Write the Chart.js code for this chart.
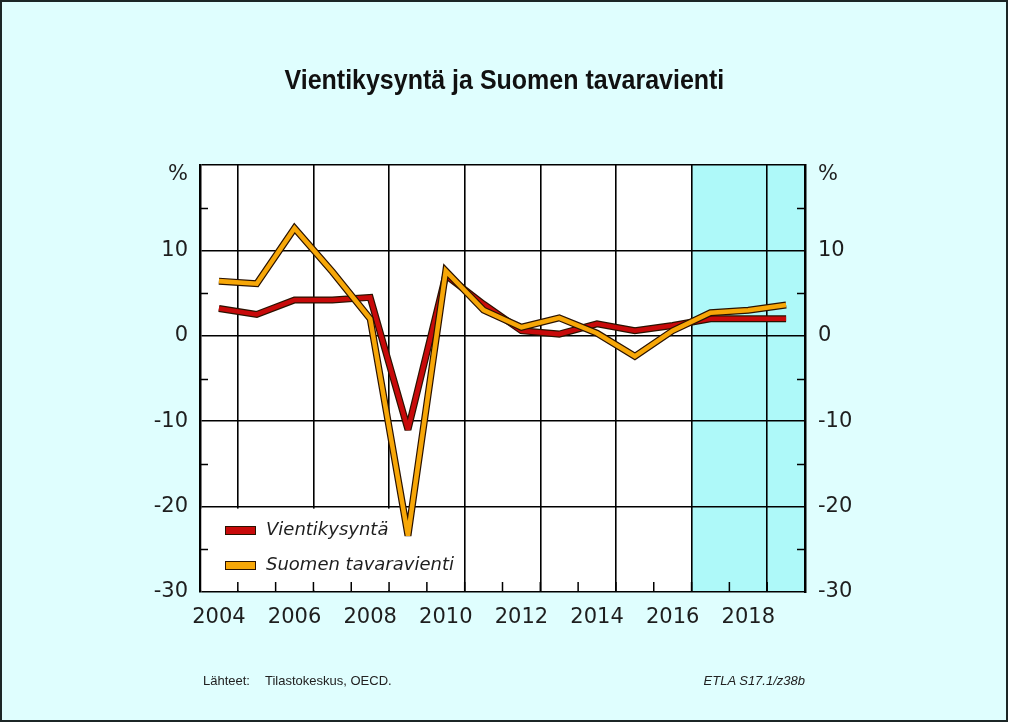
<!DOCTYPE html>
<html>
<head>
<meta charset="utf-8">
<script src="https://cdn.jsdelivr.net/npm/chart.js@4.4.0/dist/chart.umd.min.js"></script>
<style>
    html, body { margin: 0; padding: 0; background: #fff; }
    #wrap { position: relative; width: 1024px; height: 723px; overflow: hidden; }
    #frame {
        position: absolute; left: 0; top: 0;
        width: 1004px; height: 718px;
        border: 2px solid #1c2626;
        background: #dffefe;
    }
    #chart { position: absolute; left: 0; top: 0; }
    .title {
        position: absolute; left: 0; width: 1008px; top: 64px;
        text-align: center;
    }
    #title-text {
        display: inline-block;
        font-family: 'Liberation Sans', 'DejaVu Sans', sans-serif;
        font-weight: bold; font-size: 28px; color: #111;
        transform-origin: center;
        white-space: nowrap;
    }
    .footer {
        position: absolute; top: 673px;
        font-family: 'Liberation Sans Narrow', 'Liberation Sans', sans-serif;
        font-size: 13px; color: #222;
    }
</style>
</head>
<body>
<div id="wrap">
    <div id="frame"></div>
    <canvas id="chart" width="1024" height="723"></canvas>
    <div class="title"><span id="title-text">Vientikysyntä ja Suomen tavaravienti</span></div>
    <div class="footer" style="left:203px;">Lähteet:</div>
    <div class="footer" style="left:265px;">Tilastokeskus, OECD.</div>
    <div class="footer" style="right:219px; font-style:italic;">ETLA S17.1/z38b</div>
</div>
<script>
const YEARS = [2004, 2005, 2006, 2007, 2008, 2009, 2010, 2011,
               2012, 2013, 2014, 2015, 2016, 2017, 2018, 2019];
const VIENTIKYSYNTA = [3.2, 2.5, 4.2, 4.2, 4.5, -11.0, 7.1, 3.7,
                       0.6, 0.2, 1.4, 0.6, 1.2, 2.0, 2.0, 2.0];
const TAVARAVIENTI = [6.4, 6.1, 12.6, 7.5, 2.0, -23.4, 7.6, 3.0,
                      1.0, 2.1, 0.3, -2.4, 0.6, 2.7, 3.0, 3.6];
const FORECAST_YEARS = [2017, 2018, 2019];
const X_LABELS = [2004, 2006, 2008, 2010, 2012, 2014, 2016, 2018];
const Y_TICKS = [-30, -20, -10, 0, 10, 20];
const Y_MINOR = [-25, -15, -5, 5, 15];
const SERIES_NAMES = ['Vientikysyntä', 'Suomen tavaravienti'];

const RED = '#c80a0a';
const ORANGE = '#f7a708';
const OUTLINE = '#2a1200';
const SHADE = '#aef9f9';
const FONT = "'DejaVu Sans', sans-serif";
const TEXT = '#1e1e1e';

// squeeze the title to the condensed width of the original
const titleEl = document.getElementById('title-text');
titleEl.style.transform = 'scaleX(' + (440 / titleEl.offsetWidth) + ')';

function points(values) {
    return YEARS.map((y, i) => ({ x: y, y: values[i] }));
}

function lineSet(values, color, width, order) {
    return {
        data: points(values),
        borderColor: color,
        borderWidth: width,
        pointRadius: 0,
        tension: 0,
        fill: false,
        borderJoinStyle: 'miter',
        borderCapStyle: 'butt',
        order: order
    };
}

// background, forecast shading, legend box, inner ticks, legend
const decor = {
    id: 'decor',
    beforeDraw(chart) {
        const ctx = chart.ctx;
        const a = chart.chartArea;
        const x = chart.scales.x;
        ctx.save();
        ctx.fillStyle = '#fff';
        ctx.fillRect(a.left, a.top, a.right - a.left, a.bottom - a.top);
        const x0 = x.getPixelForValue(FORECAST_YEARS[0] - 0.5);
        const x1 = x.getPixelForValue(FORECAST_YEARS[FORECAST_YEARS.length - 1] + 0.5);
        ctx.fillStyle = SHADE;
        ctx.fillRect(x0, a.top, x1 - x0, a.bottom - a.top);
        ctx.restore();
    },
    beforeDatasetsDraw(chart) {
        const ctx = chart.ctx;
        const a = chart.chartArea;
        const x = chart.scales.x;
        const y = chart.scales.y;
        ctx.save();
        // legend box hides the gridlines under it
        const boxTop = y.getPixelForValue(-20) + 2;
        const boxRight = x.getPixelForValue(2010.5) - 4;
        ctx.fillStyle = '#fff';
        ctx.fillRect(a.left + 1.5, boxTop, boxRight - a.left - 1.5, a.bottom - 1.5 - boxTop);

        ctx.strokeStyle = '#000';
        ctx.lineWidth = 1.5;
        ctx.beginPath();
        Y_MINOR.forEach(v => {
            const py = Math.round(y.getPixelForValue(v)) + 0.5;
            ctx.moveTo(a.left, py); ctx.lineTo(a.left + 8, py);
            ctx.moveTo(a.right, py); ctx.lineTo(a.right - 8, py);
        });
        YEARS.slice(0, -1).forEach(v => {
            const px = x.getPixelForValue(v + 0.5);
            ctx.moveTo(px, a.bottom); ctx.lineTo(px, a.bottom - 10);
        });
        ctx.stroke();

        ctx.fillStyle = TEXT;
        ctx.font = '21px ' + FONT;
        ctx.textBaseline = 'middle';
        ctx.textAlign = 'right';
        ctx.fillText('%', a.left - 12, a.top + 10);
        ctx.textAlign = 'left';
        ctx.fillText('%', a.right + 13, a.top + 10);
        ctx.restore();
        // sharp V corners fall back to bevel instead of long spikes
        ctx.miterLimit = 3;
    },
    afterDatasetsDraw(chart) {
        const ctx = chart.ctx;
        const a = chart.chartArea;
        const colors = [RED, ORANGE];
        ctx.miterLimit = 10;
        ctx.save();
        SERIES_NAMES.forEach((name, i) => {
            const top = a.bottom - 66 + i * 35;
            ctx.fillStyle = colors[i];
            ctx.fillRect(a.left + 25, top, 31, 8);
            ctx.strokeStyle = OUTLINE;
            ctx.lineWidth = 1;
            ctx.strokeRect(a.left + 25.5, top + 0.5, 30, 8);
            ctx.fillStyle = TEXT;
            ctx.font = 'italic 18px ' + FONT;
            ctx.textBaseline = 'middle';
            ctx.textAlign = 'left';
            ctx.fillText(name, a.left + 66, top + 4);
        });
        ctx.restore();
    }
};

const ctx = document.getElementById('chart').getContext('2d');
const chart = new Chart(ctx, {
    type: 'line',
    data: {
        datasets: [
            lineSet(TAVARAVIENTI, ORANGE, 4.6, 0),
            lineSet(TAVARAVIENTI, OUTLINE, 7, 1),
            lineSet(VIENTIKYSYNTA, RED, 4.6, 2),
            lineSet(VIENTIKYSYNTA, OUTLINE, 7, 3)
        ]
    },
    plugins: [decor],
    options: {
        responsive: false,
        animation: false,
        devicePixelRatio: 1,
        layout: { padding: { top: 165, left: 0, right: 0, bottom: 0 } },
        plugins: {
            legend: { display: false },
            tooltip: { enabled: false }
        },
        scales: {
            x: {
                type: 'linear',
                position: 'bottom',
                min: YEARS[0] - 0.5,
                max: YEARS[YEARS.length - 1] + 0.5,
                afterBuildTicks: s => { s.ticks = X_LABELS.map(v => ({ value: v })); },
                afterFit: s => { s.height = 131; },
                grid: { display: false },
                border: { display: false },
                ticks: {
                    autoSkip: false, maxRotation: 0, padding: 5,
                    color: TEXT, font: { family: FONT, size: 21 },
                    callback: v => String(v)
                }
            },
            xg: {
                type: 'linear',
                position: 'top',
                min: YEARS[0] - 0.5,
                max: YEARS[YEARS.length - 1] + 0.5,
                afterBuildTicks: s => { s.ticks = X_LABELS.map(v => ({ value: v + 0.5 })); },
                afterFit: s => { s.height = 0; },
                grid: { color: '#000', lineWidth: 1.6, drawTicks: false },
                border: { display: false },
                ticks: { display: false }
            },
            y: {
                position: 'left',
                min: Y_TICKS[0],
                max: Y_TICKS[Y_TICKS.length - 1],
                afterBuildTicks: s => { s.ticks = Y_TICKS.map(v => ({ value: v })); },
                afterFit: s => { s.width = 200; },
                grid: { color: '#000', lineWidth: 1.6, drawTicks: false },
                border: { display: true, color: '#000', width: 2.5 },
                ticks: {
                    padding: 12, color: TEXT, font: { family: FONT, size: 21 },
                    callback: v => (v === 20 ? '' : String(v))
                }
            },
            y2: {
                position: 'right',
                min: Y_TICKS[0],
                max: Y_TICKS[Y_TICKS.length - 1],
                afterBuildTicks: s => { s.ticks = Y_TICKS.map(v => ({ value: v })); },
                afterFit: s => { s.width = 219; },
                grid: { display: false, drawTicks: false },
                border: { display: true, color: '#000', width: 2.5 },
                ticks: {
                    padding: 13, color: TEXT, font: { family: FONT, size: 21 },
                    callback: v => (v === 20 ? '' : String(v))
                }
            }
        }
    }
});
</script>
</body>
</html>
